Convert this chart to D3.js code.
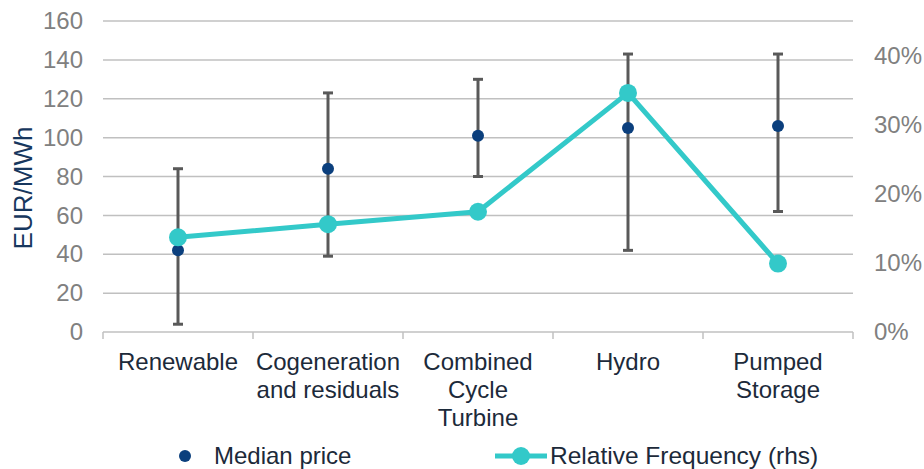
<!DOCTYPE html>
<html>
<head>
<meta charset="utf-8">
<script src="https://cdn.jsdelivr.net/npm/d3@7"></script>
<style>
  body { margin: 0; background: #fff; }
  svg { font-family: "Liberation Sans", Arial, sans-serif; }
</style>
</head>
<body>
<svg id="chart" width="924" height="469"></svg>
<script>
// categories and values
var categories = ["Renewable", "Cogeneration\nand residuals", "Combined\nCycle\nTurbine", "Hydro", "Pumped\nStorage"]
var medianPrice = [42, 84, 101, 105, 106]
var priceLow = [4, 39, 80, 42, 62]
var priceHigh = [84, 123, 130, 143, 143]
var relFrequency = [0.137, 0.156, 0.174, 0.346, 0.099]
var leftTicks = [0, 20, 40, 60, 80, 100, 120, 140, 160]
var rightTicks = [0, 0.1, 0.2, 0.3, 0.4]

var svg = d3.select("#chart")
var plotLeft = 103, plotRight = 853, plotTop = 21, plotBottom = 332

var x = d3.scaleBand().domain(d3.range(categories.length)).range([plotLeft, plotRight])
var y = d3.scaleLinear().domain([0, 160]).range([plotBottom, plotTop])
var y2 = d3.scaleLinear().domain([0, 0.45]).range([plotBottom, plotTop])

var gridCol = "#c0c0c0"
var tickCol = "#808080"
var navy = "#0b3f7d"
var teal = "#33c9c9"

// gridlines
svg.append("g").selectAll("line")
    .data(leftTicks.filter(function(d) { return d > 0 }))
    .enter().append("line")
    .attr("x1", plotLeft).attr("x2", plotRight)
    .attr("y1", function(d) { return y(d) }).attr("y2", function(d) { return y(d) })
    .style("stroke", gridCol).style("stroke-width", 1.5)

// left axis
var yAxis = svg.append("g")
    .attr("transform", "translate(" + (plotLeft - 20) + ",0)")
    .call(d3.axisLeft(y).tickValues(leftTicks).tickSize(0).tickPadding(0))
yAxis.select(".domain").remove()
yAxis.selectAll("text").style("font-size", "24px").style("fill", tickCol)
yAxis.attr("font-family", null)

// right axis
var yAxis2 = svg.append("g")
    .attr("transform", "translate(" + (plotRight + 21) + ",0)")
    .call(d3.axisRight(y2).tickValues(rightTicks).tickSize(0).tickPadding(0).tickFormat(d3.format(".0%")))
yAxis2.select(".domain").remove()
yAxis2.selectAll("text").style("font-size", "24px").style("fill", tickCol)
yAxis2.attr("font-family", null)

// x axis line + ticks at category boundaries
svg.append("line")
    .attr("x1", plotLeft).attr("x2", plotRight).attr("y1", plotBottom).attr("y2", plotBottom)
    .style("stroke", gridCol).style("stroke-width", 1.5)
var bounds = d3.range(categories.length + 1).map(function(i) { return plotLeft + i * x.step() })
svg.append("g").selectAll("line").data(bounds).enter().append("line")
    .attr("x1", function(d) { return d }).attr("x2", function(d) { return d })
    .attr("y1", plotBottom).attr("y2", plotBottom + 7)
    .style("stroke", gridCol).style("stroke-width", 1.5)

// category labels
var cat = svg.append("g").selectAll("text").data(categories).enter().append("text")
    .attr("text-anchor", "middle")
    .style("font-size", "24px").style("fill", "#1c2a3a")
cat.each(function(d, i) {
    var t = d3.select(this)
    d.split("\n").forEach(function(line, j) {
        t.append("tspan")
            .attr("x", x(i) + x.bandwidth() / 2)
            .attr("y", 370 + j * 28)
            .text(line)
    })
})

// y title
svg.append("text")
    .attr("transform", "translate(32,188) rotate(-90)")
    .attr("text-anchor", "middle")
    .style("font-size", "26px").style("fill", "#17375e")
    .text("EUR/MWh")

// error bars
var cx = function(i) { return x(i) + x.bandwidth() / 2 }
var eb = svg.append("g").selectAll("g").data(medianPrice).enter().append("g")
    .style("stroke", "#595959").style("stroke-width", 3)
eb.append("line")
    .attr("x1", function(d, i) { return cx(i) }).attr("x2", function(d, i) { return cx(i) })
    .attr("y1", function(d, i) { return y(priceLow[i]) }).attr("y2", function(d, i) { return y(priceHigh[i]) })
eb.append("line")
    .attr("x1", function(d, i) { return cx(i) - 5 }).attr("x2", function(d, i) { return cx(i) + 5 })
    .attr("y1", function(d, i) { return y(priceLow[i]) }).attr("y2", function(d, i) { return y(priceLow[i]) })
eb.append("line")
    .attr("x1", function(d, i) { return cx(i) - 5 }).attr("x2", function(d, i) { return cx(i) + 5 })
    .attr("y1", function(d, i) { return y(priceHigh[i]) }).attr("y2", function(d, i) { return y(priceHigh[i]) })

// median dots
svg.append("g").selectAll("circle").data(medianPrice).enter().append("circle")
    .attr("cx", function(d, i) { return cx(i) })
    .attr("cy", function(d) { return y(d) })
    .attr("r", 6).style("fill", navy)

// relative frequency line
var line = d3.line()
    .x(function(d, i) { return cx(i) })
    .y(function(d) { return y2(d) })
svg.append("path").datum(relFrequency)
    .attr("d", line)
    .style("fill", "none").style("stroke", teal).style("stroke-width", 5)
    .style("stroke-linejoin", "round")
svg.append("g").selectAll("circle").data(relFrequency).enter().append("circle")
    .attr("cx", function(d, i) { return cx(i) })
    .attr("cy", function(d) { return y2(d) })
    .attr("r", 9).style("fill", teal)

// legend
var lg = svg.append("g")
lg.append("circle").attr("cx", 185).attr("cy", 456).attr("r", 6).style("fill", navy)
lg.append("text").attr("x", 214).attr("y", 464)
    .style("font-size", "24px").style("fill", "#1c2a3a").text("Median price")
lg.append("line").attr("x1", 495).attr("x2", 547).attr("y1", 456).attr("y2", 456)
    .style("stroke", teal).style("stroke-width", 5)
lg.append("circle").attr("cx", 521).attr("cy", 456).attr("r", 9).style("fill", teal)
lg.append("text").attr("x", 550).attr("y", 464)
    .style("font-size", "24.5px").style("fill", "#1c2a3a").text("Relative Frequency (rhs)")
</script>
</body>
</html>
